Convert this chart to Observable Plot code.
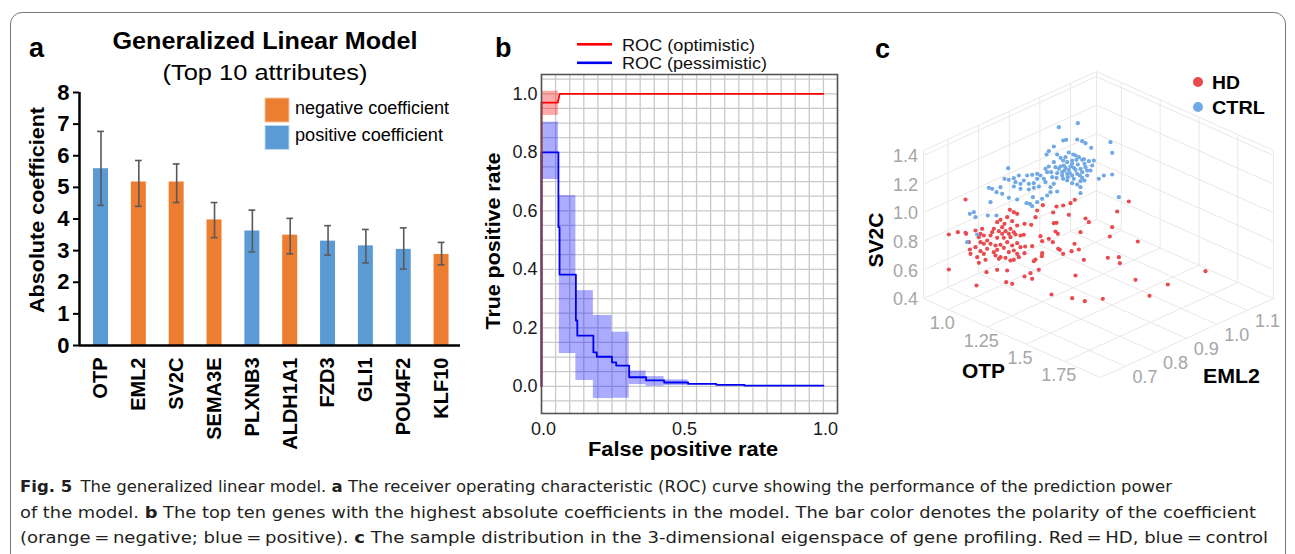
<!DOCTYPE html>
<html><head><meta charset="utf-8">
<script src="https://cdn.jsdelivr.net/npm/d3@7"></script>
<script src="https://cdn.jsdelivr.net/npm/@observablehq/plot@0.6"></script>
<style>
body{margin:0;background:#fff;}
#wrap{position:relative;width:1295px;height:554px;overflow:hidden;background:#fff;font-family:"Liberation Sans",Arial,sans-serif;}
#pa g[aria-label="y-axis tick label"], #pa g[aria-label="x-axis tick label"]{font-weight:bold;}
</style></head><body><div id="wrap"></div>
<script>
// ---------- Panel a: GLM coefficients ----------
const genes = ["OTP","EML2","SV2C","SEMA3E","PLXNB3","ALDH1A1","FZD3","GLI1","POU4F2","KLF10"];
const coef = [5.59,5.17,5.17,3.97,3.62,3.49,3.30,3.15,3.04,2.88];
const errLow = [4.43,4.40,4.52,3.41,2.96,2.90,2.86,2.61,2.42,2.55];
const errHigh = [6.77,5.85,5.74,4.52,4.28,4.02,3.79,3.67,3.72,3.26];
const polarity = ["positive","negative","negative","negative","positive","negative","positive","positive","positive","negative"];
const coefTicks = [0,1,2,3,4,5,6,7,8];

// ---------- Panel b: ROC curves ----------
const optFPR = [0, 0, 0.058, 0.064, 1.0];
const optTPR = [0, 0.97, 0.97, 1.0, 1.0];
const pessFPR = [0,0,0.060,0.060,0.064,0.064,0.122,0.122,0.127,0.127,0.184,0.184,0.196,0.196,0.250,0.250,0.265,0.265,0.311,0.311,0.371,0.371,0.435,0.435,0.52,0.52,0.62,0.62,0.72,0.72,1.0];
const pessTPR = [0,0.80,0.80,0.544,0.544,0.382,0.382,0.225,0.225,0.173,0.173,0.116,0.116,0.101,0.101,0.082,0.082,0.071,0.071,0.031,0.031,0.020,0.020,0.013,0.013,0.008,0.008,0.005,0.005,0.002,0.002];
const pessBandX1 = [0, 0.063, 0.122, 0.184, 0.250, 0.311, 0.371, 0.435];
const pessBandX2 = [0.060, 0.122, 0.184, 0.250, 0.311, 0.371, 0.435, 0.52];
const pessBandLo = [0.707, 0.112, 0.020, -0.042, -0.041, 0.006, 0.000, 0.003];
const pessBandHi = [0.903, 0.652, 0.327, 0.242, 0.185, 0.052, 0.033, 0.022];
const optBandX1 = [0], optBandX2 = [0.060], optBandLo = [0.926], optBandHi = [1.009];
const rocTicksY = [0,0.2,0.4,0.6,0.8,1.0];
const rocTicksX = [0,0.5,1.0];

// ---------- Panel c: 3-D eigenspace ----------
const otpTicks = [1.0,1.25,1.5,1.75];
const otpTickLabels = ["1.0","1.25","1.5","1.75"];
const eml2Ticks = [0.7,0.8,0.9,1.0,1.1];
const sv2cTicks = [0.4,0.6,0.8,1.0,1.2,1.4];
const otpRange = [0.84,1.98], eml2Range = [0.62,1.185], sv2cRange = [0.4,1.435];
// sample positions in the projected view plane
const ctrlPts = [[592,188],[535,200],[548,240],[557,238],[590,237],[605,242],[615,248],[690,245],[632,262],[520,258],[695,277],[505,272],[565,276],[578,282],[595,290],[610,296],[625,302],[498,282],[530,282],[540,292],[548,300],[588,298],[605,298],[640,300],[520,305],[560,305],[575,310],[612,310],[505,318],[495,325],[525,320],[540,318],[555,322],[565,328],[585,328],[600,325],[615,320],[635,315],[570,318],[550,315],[383,323],[500,335],[545,335],[530,338],[560,340],[575,345],[605,335],[620,345],[695,342],[670,345],[590,340],[545,345],[415,345],[440,345],[455,343],[480,345],[515,350],[372,355],[385,358],[400,353],[470,355],[490,355],[580,355],[605,352],[655,355],[430,360],[560,360],[600,362],[575,368],[590,372],[420,370],[445,370],[460,368],[520,370],[510,380],[475,378],[460,382],[445,387],[420,385],[400,378],[325,382],[335,385],[600,380],[348,395],[365,400],[500,405],[510,395],[530,393],[485,415],[470,425],[385,412],[410,417],[457,410],[715,410],[330,425],[438,428],[455,437],[448,430],[600,398],[280,455],[268,460],[285,470],[322,465],[348,465],[290,522],[260,545],[552,330],[568,338],[580,322],[592,312],[562,350],[548,355],[535,325],[575,300],[598,345],[620,330],[585,285],[555,290],[528,352],[512,335],[612,360],[630,330],[470,340],[495,365],[405,365],[360,380]];
const hdPts = [[255,417],[745,423],[583,418],[570,428],[548,435],[528,438],[487,434],[470,450],[518,456],[465,470],[565,463],[615,474],[625,485],[520,488],[528,487],[432,490],[452,493],[388,448],[400,455],[410,460],[710,453],[380,470],[360,478],[350,485],[372,490],[365,500],[395,482],[410,495],[695,500],[600,515],[525,513],[532,520],[505,535],[480,527],[485,542],[517,545],[430,523],[420,525],[582,550],[434,558],[455,557],[533,565],[538,568],[573,572],[595,567],[688,528],[432,578],[485,578],[484,587],[548,580],[682,592],[610,598],[465,597],[460,602],[715,590],[718,608],[475,628],[450,638],[585,645],[455,655],[772,543],[255,517],[285,510],[305,505],[340,505],[355,512],[375,512],[390,505],[400,515],[205,522],[232,515],[257,520],[295,530],[310,525],[330,525],[350,532],[370,532],[405,522],[265,545],[300,545],[310,550],[330,550],[345,555],[360,553],[380,545],[395,555],[410,548],[268,567],[300,572],[320,565],[350,568],[370,562],[385,575],[400,570],[410,580],[270,580],[290,590],[310,580],[315,598],[345,585],[355,595],[375,592],[390,600],[400,598],[415,590],[295,607],[205,627],[318,635],[350,628],[380,630],[432,648],[377,665],[395,670],[288,675],[765,658],[862,672],[513,702],[575,713],[613,722],[667,715],[807,706],[975,632],[320,540],[335,515],[285,560],[390,530],[365,520],[300,520],[420,560],[385,520],[340,575],[360,590]];

const FONT = "Liberation Sans, Arial, sans-serif";
const wrap = document.getElementById("wrap");
function place(el, left, top, id){ el.style.position="absolute"; el.style.left=left+"px"; el.style.top=top+"px"; if(id) el.id=id; wrap.appendChild(el); }

// ----- Panel a plot -----
const barData = genes.map((g,i)=>({i, gene:g, v:coef[i], lo:errLow[i], hi:errHigh[i], pol:polarity[i]}));
const X0 = -0.568;
const plotA = Plot.plot({
  width: 470, height: 460,
  marginLeft: 79, marginRight: 10, marginTop: 92, marginBottom: 115,
  style: {fontFamily: FONT, color: "#000", background: "transparent", overflow: "visible"},
  x: {domain: [X0, 9.5]},
  y: {domain: [0, 8]},
  color: {domain: ["negative","positive"], range: ["#ED7D31","#5B9BD5"]},
  marks: [
    Plot.rectY(barData, {x1: d=>d.i-0.198, x2: d=>d.i+0.198, y1: 0, y2: "v", fill: "pol"}),
    Plot.ruleX(barData, {x: "i", y1: "lo", y2: "hi", stroke: "#595959", strokeWidth: 1.6}),
    Plot.ruleY(barData, {y: "lo", x1: d=>d.i-0.09, x2: d=>d.i+0.09, stroke: "#595959", strokeWidth: 1.6}),
    Plot.ruleY(barData, {y: "hi", x1: d=>d.i-0.09, x2: d=>d.i+0.09, stroke: "#595959", strokeWidth: 1.6}),
    Plot.ruleY([0], {stroke: "#000", strokeWidth: 2.5}),
    Plot.ruleX([X0], {stroke: "#000", strokeWidth: 2.5}),
    Plot.axisY(coefTicks, {tickSize: 6, tickPadding: 4, fontSize: 22, fontWeight: "bold", label: null, strokeWidth: 2}),
    Plot.axisX(d3.range(genes.length), {tickSize: 0, tickPadding: 12, tickRotate: -90, tickFormat: i=>genes[i], fontSize: 20, fontWeight: "bold", label: null})
  ]
});
place(plotA, 0, 0, "pa");

// ----- Panel b plot -----
const pess = pessFPR.map((x,i)=>({x, y: pessTPR[i]}));
const opt = optFPR.map((x,i)=>({x, y: optTPR[i]}));
const pBand = pessBandX1.map((x1,i)=>({x1, x2: pessBandX2[i], y1: pessBandLo[i], y2: pessBandHi[i]}));
const oBand = optBandX1.map((x1,i)=>({x1, x2: optBandX2[i], y1: optBandLo[i], y2: optBandHi[i]}));
const gridX = d3.range(0, 22).map(i=>+(i*0.05).toFixed(2));
const gridY = d3.range(-1, 22).map(i=>+(i*0.05).toFixed(2));
const plotB = Plot.plot({
  width: 380, height: 440,
  marginLeft: 71, marginRight: 13, marginTop: 54, marginBottom: 47,
  style: {fontFamily: FONT, color: "#1a1a1a", background: "transparent", overflow: "visible"},
  x: {domain: [0, 1.05]},
  y: {domain: [-0.093, 1.066]},
  marks: [
    Plot.ruleX(gridX, {stroke: "#c9c9c9", strokeWidth: 1.3}),
    Plot.ruleY(gridY, {stroke: "#c9c9c9", strokeWidth: 1.3}),
    Plot.rect(pBand, {x1: "x1", x2: "x2", y1: "y1", y2: "y2", fill: "#0000ff", fillOpacity: 0.33}),
    Plot.rect(oBand, {x1: "x1", x2: "x2", y1: "y1", y2: "y2", fill: "#ff0000", fillOpacity: 0.33}),
    Plot.line(pess, {x: "x", y: "y", stroke: "#0000ee", strokeWidth: 1.8}),
    Plot.line(opt, {x: "x", y: "y", stroke: "#ff0000", strokeWidth: 1.8}),
    Plot.frame({stroke: "#555", strokeWidth: 1.6}),
    Plot.axisY(rocTicksY, {tickSize: 0, tickPadding: 4, tickFormat: d=>d.toFixed(1), fontSize: 18, label: null}),
    Plot.axisX(rocTicksX, {tickSize: 0, tickPadding: 9, tickFormat: d=>d.toFixed(1), fontSize: 18, label: null, dx: 2})
  ]
});
place(plotB, 470, 20, "pb");

// ----- Panel c plot -----
function proj(o, e, s){
  const a = (o-otpRange[0])/(otpRange[1]-otpRange[0]);
  const b = (e-eml2Range[0])/(eml2Range[1]-eml2Range[0]);
  const c = (s-sv2cRange[0])/(sv2cRange[1]-sv2cRange[0]);
  return [129 + a*531 + b*519, 714 + a*237 - b*237 - c*444];
}
const [o0,o1] = otpRange, [e0,e1] = eml2Range, [s0,s1] = sv2cRange;
const segs = [];
function seg(p,q){ segs.push({x1:p[0], y1:p[1], x2:q[0], y2:q[1]}); }
// floor (SV2C = min)
otpTicks.forEach(o=>seg(proj(o,e0,s0), proj(o,e1,s0)));
eml2Ticks.forEach(e=>seg(proj(o0,e,s0), proj(o1,e,s0)));
// left wall (OTP = min)
eml2Ticks.forEach(e=>seg(proj(o0,e,s0), proj(o0,e,s1)));
sv2cTicks.forEach(s=>seg(proj(o0,e0,s), proj(o0,e1,s)));
// right wall (EML2 = max)
otpTicks.forEach(o=>seg(proj(o,e1,s0), proj(o,e1,s1)));
sv2cTicks.forEach(s=>seg(proj(o0,e1,s), proj(o1,e1,s)));
// box outline
seg(proj(o0,e0,s0), proj(o1,e0,s0)); seg(proj(o1,e0,s0), proj(o1,e1,s0));
seg(proj(o0,e0,s0), proj(o0,e0,s1)); seg(proj(o0,e0,s1), proj(o0,e1,s1));
seg(proj(o0,e1,s0), proj(o0,e1,s1)); seg(proj(o0,e1,s1), proj(o1,e1,s1));
seg(proj(o1,e1,s0), proj(o1,e1,s1));

const plotC = Plot.plot({
  width: 420, height: 400,
  margin: 0,
  style: {fontFamily: FONT, background: "transparent", overflow: "visible"},
  x: {domain: [-30, 1230], axis: null},
  y: {domain: [1110, -90], axis: null},
  marks: [
    Plot.link(segs, {x1: "x1", y1: "y1", x2: "x2", y2: "y2", stroke: "#e8e8e8", strokeWidth: 1}),
    Plot.text(otpTicks, {x: d=>proj(d,e0,s0)[0], y: d=>proj(d,e0,s0)[1], text: (d,i)=>otpTickLabels[i], dx: -6, dy: 14, fill: "#a6a6a6", fontSize: 18}),
    Plot.text(eml2Ticks, {x: d=>proj(o1,d,s0)[0], y: d=>proj(o1,d,s0)[1], text: d=>d.toFixed(1), dx: 20, dy: 11, fill: "#a6a6a6", fontSize: 18}),
    Plot.text(sv2cTicks, {x: d=>proj(o0,e0,d)[0], y: d=>proj(o0,e0,d)[1], text: d=>d.toFixed(1), dx: -18, dy: 1, fill: "#a6a6a6", fontSize: 18}),
    Plot.dot(hdPts, {x: d=>d[0], y: d=>d[1], r: 2.1, fill: "#e94b4f", stroke: "none"}),
    Plot.dot(ctrlPts, {x: d=>d[0], y: d=>d[1], r: 2.1, fill: "#70a9e6", stroke: "none"})
  ]
});
place(plotC, 870, 30, "pc");

// ----- border -----
const border = document.createElement("div");
border.style.cssText = "position:absolute;left:10px;top:12px;width:1274px;height:600px;border:1px solid #777;border-radius:12px;pointer-events:none;";
wrap.appendChild(border);

// ----- overlay texts -----
const NS = "http://www.w3.org/2000/svg";
const ov = document.createElementNS(NS, "svg");
ov.setAttribute("width", 1295); ov.setAttribute("height", 554);
ov.style.cssText = "position:absolute;left:0;top:0;pointer-events:none;";
wrap.appendChild(ov);
function t(x, y, s, o={}){
  const e = document.createElementNS(NS, "text");
  e.setAttribute("x", x); e.setAttribute("y", y); e.textContent = s;
  e.setAttribute("font-family", o.family || FONT);
  e.setAttribute("font-size", o.size || 16);
  if (o.weight) e.setAttribute("font-weight", o.weight);
  if (o.anchor) e.setAttribute("text-anchor", o.anchor);
  e.setAttribute("fill", o.fill || "#000");
  if (o.len){ e.setAttribute("textLength", o.len); e.setAttribute("lengthAdjust", "spacingAndGlyphs"); }
  if (o.rotate) e.setAttribute("transform", `rotate(${o.rotate} ${x} ${y})`);
  ov.appendChild(e); return e;
}
function r(x, y, w, h, fill, stroke){
  const e = document.createElementNS(NS, "rect");
  e.setAttribute("x", x); e.setAttribute("y", y); e.setAttribute("width", w); e.setAttribute("height", h);
  e.setAttribute("fill", fill); if (stroke){ e.setAttribute("stroke", stroke); e.setAttribute("stroke-width", 1); }
  ov.appendChild(e); return e;
}
function c(cx, cy, rr, fill){
  const e = document.createElementNS(NS, "circle");
  e.setAttribute("cx", cx); e.setAttribute("cy", cy); e.setAttribute("r", rr); e.setAttribute("fill", fill);
  ov.appendChild(e);
}
// panel a
t(29, 57, "a", {size: 27, weight: "bold"});
t(265, 49, "Generalized Linear Model", {size: 23, weight: "bold", anchor: "middle", len: 305});
t(265, 80, "(Top 10 attributes)", {size: 22, anchor: "middle", len: 205});
t(44, 210, "Absolute coefficient", {size: 21, weight: "bold", anchor: "middle", rotate: -90, len: 206});
r(265, 98, 24, 24, "#ED7D31", "#f6c7a6");
r(265, 125.5, 24, 24, "#5B9BD5", "#c3dbf0");
t(295, 114, "negative coefficient", {size: 18, len: 154});
t(295, 141, "positive coefficient", {size: 18, len: 148});
// panel b
t(495, 57, "b", {size: 27, weight: "bold"});
r(577, 43, 35, 2.6, "#ff0000");
r(577, 61.5, 35, 2.6, "#0000ee");
t(622, 50.5, "ROC (optimistic)", {size: 16.5, fill: "#111", len: 133});
t(622, 69, "ROC (pessimistic)", {size: 16.5, fill: "#111", len: 145});
t(500, 241, "True positive rate", {size: 20, weight: "bold", anchor: "middle", rotate: -90, len: 177});
t(683, 456, "False positive rate", {size: 20, weight: "bold", anchor: "middle", len: 190});
// panel c
t(875, 58, "c", {size: 27, weight: "bold"});
t(883, 240, "SV2C", {size: 20, weight: "bold", anchor: "middle", rotate: -90, len: 55});
t(983.5, 378, "OTP", {size: 21, weight: "bold", anchor: "middle", len: 43});
t(1231.5, 383, "EML2", {size: 21, weight: "bold", anchor: "middle", len: 57});
c(1198, 82, 5, "#e94b4f");
c(1198, 107, 5, "#70a9e6");
t(1212, 88.5, "HD", {size: 18.5, weight: "bold", len: 28});
t(1212, 113.5, "CTRL", {size: 18.5, weight: "bold", len: 53});

// caption
const CAP = "DejaVu Sans Condensed, DejaVu Sans, sans-serif";
function capLine(y, parts, len){
  const e = document.createElementNS(NS, "text");
  e.setAttribute("x", 20); e.setAttribute("y", y);
  e.setAttribute("font-family", CAP); e.setAttribute("font-size", 16.5); e.setAttribute("fill", "#231f20");
  e.setAttribute("textLength", len); e.setAttribute("lengthAdjust", "spacingAndGlyphs");
  parts.forEach(([s, b])=>{ const ts = document.createElementNS(NS, "tspan"); ts.textContent = s; if (b) ts.setAttribute("font-weight", "bold"); e.appendChild(ts); });
  ov.appendChild(e);
}
capLine(492, [["Fig. 5", true], ["\u2002The generalized linear model. ", false], ["a", true], [" The receiver operating characteristic (ROC) curve showing the performance of the prediction power", false]], 1152);
capLine(518, [["of the model. ", false], ["b", true], [" The top ten genes with the highest absolute coefficients in the model. The bar color denotes the polarity of the coefficient", false]], 1236);
capLine(543, [["(orange\u2009=\u2009negative; blue\u2009=\u2009positive). ", false], ["c", true], [" The sample distribution in the 3-dimensional eigenspace of gene profiling. Red\u2009=\u2009HD, blue\u2009=\u2009control", false]], 1248);
</script>
</body></html>
